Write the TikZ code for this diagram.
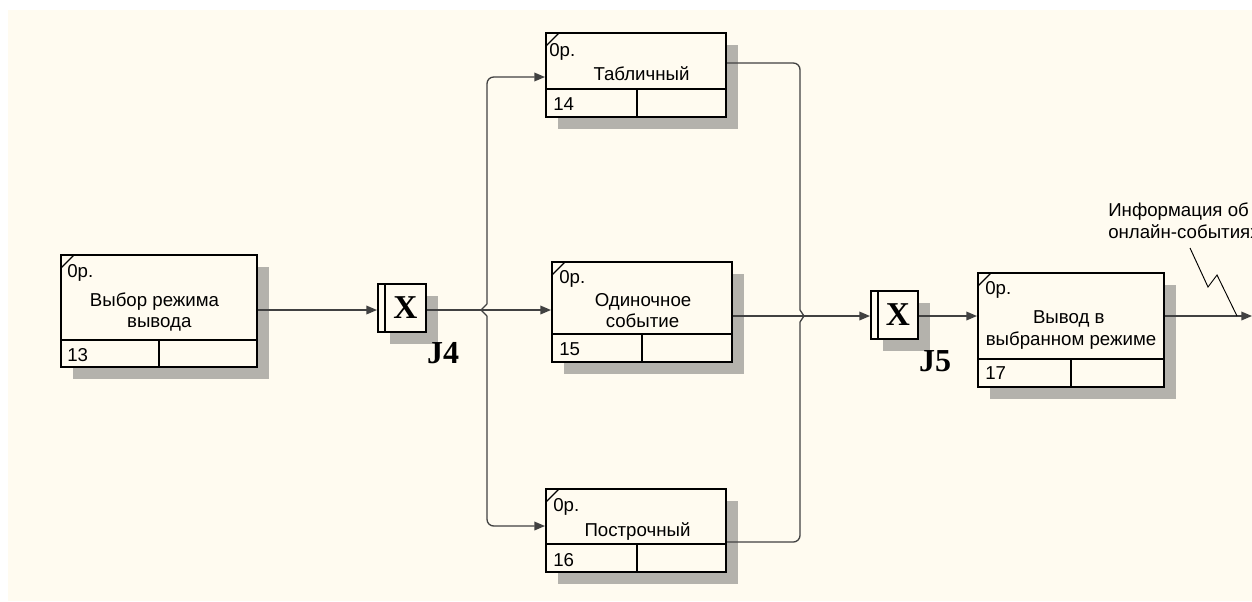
\documentclass[tikz,border=0pt]{standalone}
\usepackage{fontspec}
\setmainfont{Liberation Sans}
\newfontfamily\tnrfont{Liberation Serif}
\usetikzlibrary{arrows.meta,fit}
\definecolor{bgcream}{RGB}{255,251,240}
\definecolor{shadowgray}{RGB}{180,178,172}
\definecolor{linegray}{RGB}{65,65,65}

\newcommand\uobox[7]{%
  \fill[shadowgray] (#2+12,#3+12) rectangle (#4+12,#5+12);
  \node[boxframe, fit={(#2,#3)(#4,#5)}] (#1) {};
  \draw[line width=1.5pt] (#2,#6) -- (#4,#6) (#7,#6) -- (#7,#5);
  \draw[line width=1pt] (#2,#3+13) -- (#2+13,#3);
}
\newcommand\uojunc[6]{%
  \fill[shadowgray] (#2+12,#3+12) rectangle (#4+12,#5+12);
  \node[boxframe, fit={(#2,#3)(#4,#5)}] (#1) {};
  \draw[line width=1.5pt] (#6,#3) -- (#6,#5);
  \node[jx] (#1x) at ({(#6+#4)/2},{(#3+#5)/2}) {X};
}

\begin{document}
\begin{tikzpicture}[x=0.75pt,y=-0.75pt,
  boxframe/.style={draw=black, line width=1.5pt, fill=bgcream, inner sep=0pt, rectangle},
  conn/.style={draw=linegray, line width=1pt},
  tip/.style={-{Triangle[length=8pt,width=6.5pt]}},
  lbl/.style={font=\fontsize{14}{16}\selectfont, inner sep=0pt},
  jx/.style={font=\tnrfont\bfseries\fontsize{25}{25}\selectfont, inner sep=0pt},
  jlbl/.style={font=\tnrfont\bfseries\fontsize{24}{24}\selectfont, inner sep=0pt},
]
\useasboundingbox (0,0) rectangle (1252,601);
\fill[white] (0,0) rectangle (1252,601);
\fill[bgcream] (8,10) rectangle (1252,601);

% boxes
\uobox{b13}{61}{255}{257}{367}{340}{159}
\uobox{b14}{546}{33}{726}{117}{89}{637}
\uobox{b15}{552}{262}{732}{362}{334}{642}
\uobox{b16}{546}{489}{726}{572}{544}{637}
\uobox{b17}{978}{273}{1164}{387}{359}{1071}
\uojunc{j4}{378}{284}{426}{332}{385}
\uojunc{j5}{871}{291}{918}{339}{878}

% box texts
\node[lbl,anchor=base west] (c13) at (67,277) {0р.};
\node[lbl,anchor=base] (t13a) at (154.5,306) {Выбор режима};
\node[lbl,anchor=base] (t13b) at (159.3,327.3) {вывода};
\node[lbl,anchor=base west] (n13) at (67,361) {13};

\node[lbl,anchor=base west] (c14) at (549,56) {0р.};
\node[lbl,anchor=base] (t14) at (641.5,80) {Табличный};
\node[lbl,anchor=base west] (n14) at (553,110) {14};

\node[lbl,anchor=base west] (c15) at (559,283) {0р.};
\node[lbl,anchor=base] (t15a) at (643,306) {Одиночное};
\node[lbl,anchor=base] (t15b) at (642.5,327.7) {событие};
\node[lbl,anchor=base west] (n15) at (559,355) {15};

\node[lbl,anchor=base west] (c16) at (553,511) {0р.};
\node[lbl,anchor=base] (t16) at (637.5,536) {Построчный};
\node[lbl,anchor=base west] (n16) at (553,566) {16};

\node[lbl,anchor=base west] (c17) at (985,294) {0р.};
\node[lbl,anchor=base] (t17a) at (1068.8,323.3) {Вывод в};
\node[lbl,anchor=base] (t17b) at (1071,345.3) {выбранном режиме};
\node[lbl,anchor=base west] (n17) at (985,379) {17};

% junction labels
\node[jlbl] (l4) at (443,353) {J4};
\node[jlbl] (l5) at (935,361) {J5};

% connectors
\coordinate (r1) at (0,310);
\coordinate (r2) at (0,316);
\draw[conn,tip] (b13.east |- r1) -- (j4.west |- r1);
\draw[conn,tip] (j4.east |- r1) -- (b15.west |- r1);
\draw[conn] (487,304) -- (481,310) -- (487,316);
\draw[conn,tip,rounded corners=5pt] (487,304) -- (487,77) -- (b14.west |- 0,77);
\draw[conn,tip,rounded corners=5pt] (487,316) -- (487,526) -- (b16.west |- 0,526);

\draw[conn,rounded corners=5pt] (b14.east |- 0,63) -- (800,63) -- (800,310);
\draw[conn,rounded corners=5pt] (b16.east |- 0,542) -- (800,542) -- (800,322);
\draw[conn] (800,310) -- (804,316) -- (800,322);
\draw[conn,tip] (b15.east |- r2) -- (j5.west |- r2);
\draw[conn,tip] (j5.east |- r2) -- (b17.west |- r2);
\coordinate (outend) at (1252,316);
\draw[conn,tip] (b17.east |- outend) -- (outend);

% output label
\node[lbl,anchor=base west] (info1) at (1108,216) {Информация об};
\node[lbl,anchor=base west] (info2) at (1108,238) {онлайн-событиях};
\coordinate (sq1) at (1190,248);
\draw[black,line width=0.7pt] (sq1) -- (1208,287) -- (1217,275) -- (1237,316);
\end{tikzpicture}
\end{document}
